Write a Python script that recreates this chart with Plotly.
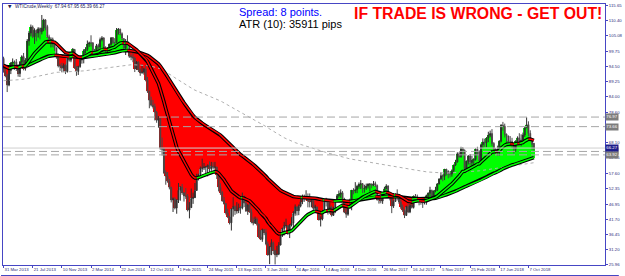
import numpy as np
import pandas as pd
import plotly.graph_objects as go

# ---------------- data (weekly WTI bars) ----------------
weeks = pd.date_range("2013-03-31", periods=292, freq="7D")

close = [92.70, 91.29, 88.01, 93.00, 95.61, 96.04, 96.02, 93.84, 91.97, 96.03,
         97.85, 93.69, 96.56, 103.22, 105.95, 108.05, 104.70, 106.94, 105.97, 107.46,
         106.42, 107.65, 110.53, 108.21, 104.67, 102.87, 103.84, 102.02, 100.81, 97.85,
         94.61, 94.60, 93.84, 94.84, 92.72, 97.65, 96.60, 99.32, 100.32, 93.96,
         92.72, 94.37, 96.64, 97.49, 99.88, 100.30, 102.20, 102.59, 102.58, 98.89,
         99.46, 101.67, 101.14, 103.74, 104.30, 100.60, 99.76, 99.99, 102.02, 104.35,
         102.71, 102.66, 106.91, 107.26, 105.74, 104.06, 100.83, 103.13, 102.09, 97.88,
         97.65, 97.35, 93.65, 95.96, 93.29, 92.27, 92.41, 93.54, 89.74, 85.82,
         82.75, 81.01, 80.54, 78.65, 75.82, 76.51, 66.15, 65.84, 57.81, 56.52,
         54.73, 52.69, 48.36, 48.69, 45.59, 48.24, 51.69, 52.78, 50.81, 49.76,
         49.61, 44.84, 45.72, 48.87, 49.14, 51.64, 55.74, 57.15, 59.15, 59.39,
         59.69, 59.72, 60.30, 59.13, 59.96, 59.61, 59.63, 56.93, 52.74, 50.89,
         48.14, 47.12, 43.87, 42.50, 40.45, 45.22, 46.05, 44.63, 44.68, 45.70,
         45.54, 49.63, 47.26, 44.60, 46.59, 44.29, 40.74, 40.39, 41.71, 39.97,
         35.62, 34.73, 38.10, 37.04, 33.16, 29.42, 32.19, 33.62, 30.89, 29.44,
         29.64, 32.78, 35.92, 38.50, 39.44, 39.46, 36.79, 39.72, 40.36, 43.73,
         45.92, 44.66, 46.21, 47.75, 49.33, 48.62, 49.07, 47.98, 47.64, 48.99,
         45.41, 45.95, 44.19, 41.60, 41.80, 44.49, 48.52, 47.64, 44.44, 45.88,
         43.03, 44.48, 48.24, 49.81, 50.35, 50.85, 48.70, 44.07, 43.41, 45.69,
         46.06, 51.68, 51.50, 51.90, 53.02, 53.72, 53.99, 52.37, 52.42, 53.17,
         53.83, 53.86, 53.40, 53.99, 53.33, 48.49, 48.78, 47.97, 50.60, 52.24,
         53.18, 49.62, 49.33, 46.22, 47.84, 50.33, 49.80, 47.66, 45.83, 44.74,
         43.01, 46.04, 44.23, 46.54, 45.77, 49.71, 49.58, 48.82, 48.51, 47.87,
         47.29, 47.48, 49.89, 50.66, 51.67, 49.29, 51.45, 51.84, 53.90, 55.64,
         56.74, 56.55, 58.95, 58.36, 57.36, 57.30, 58.47, 60.42, 61.44, 64.30,
         63.37, 66.14, 65.45, 59.20, 61.68, 63.55, 61.25, 62.04, 62.34, 65.88,
         64.94, 62.06, 67.39, 68.38, 68.10, 69.72, 70.70, 71.28, 67.88, 65.81,
         65.74, 65.06, 68.58, 74.15, 73.80, 71.01, 70.46, 68.69, 68.49, 67.63,
         65.91, 68.72, 69.80, 67.75, 68.99, 70.78, 73.25, 74.34, 71.34, 69.12,
         67.59, 66.27]

high = [97.8, 94.9, 91.9, 93.6, 95.9, 97.2, 96.5, 97.0, 95.1, 96.2,
        98.3, 99.1, 97.3, 103.9, 106.7, 108.9, 108.6, 107.6, 107.2, 108.0,
        107.9, 112.2, 110.9, 110.7, 108.8, 105.4, 104.5, 104.4, 103.2, 101.0,
        98.9, 95.4, 95.7, 95.5, 95.2, 98.0, 98.8, 99.6, 100.8, 100.4,
        94.6, 94.7, 97.8, 98.0, 100.4, 101.1, 103.4, 103.0, 105.2, 102.8,
        100.5, 102.2, 102.3, 104.4, 104.9, 104.5, 101.4, 101.1, 102.4, 104.5,
        104.6, 104.2, 107.7, 107.7, 107.5, 106.2, 104.1, 103.9, 105.2, 102.2,
        98.6, 99.1, 97.8, 96.3, 96.2, 93.8, 95.2, 94.0, 94.9, 90.8,
        86.1, 84.0, 82.9, 81.6, 79.0, 77.3, 76.6, 69.9, 66.5, 58.6,
        58.0, 55.6, 52.9, 49.2, 49.3, 48.6, 54.2, 53.1, 53.9, 51.0,
        52.5, 50.4, 47.6, 52.3, 50.9, 54.2, 57.4, 57.4, 59.9, 62.6,
        61.1, 60.1, 60.6, 61.7, 61.5, 61.4, 61.5, 59.9, 56.9, 54.1,
        51.4, 49.4, 47.2, 45.3, 42.9, 45.4, 49.3, 46.5, 47.6, 47.1,
        46.2, 50.9, 49.9, 47.8, 46.9, 48.4, 45.3, 42.3, 42.6, 42.3,
        40.2, 37.9, 38.5, 38.2, 38.4, 34.0, 32.4, 34.8, 34.0, 31.2,
        32.5, 33.8, 36.2, 38.8, 40.8, 41.9, 39.6, 40.0, 42.4, 44.5,
        46.8, 46.2, 46.8, 48.7, 50.2, 50.2, 51.7, 50.6, 50.6, 49.4,
        49.4, 46.7, 46.0, 44.2, 42.7, 44.9, 48.8, 49.1, 47.3, 47.6,
        46.4, 46.0, 48.3, 50.4, 51.6, 52.0, 51.4, 49.1, 46.0, 46.6,
        48.8, 51.8, 52.4, 54.5, 53.6, 54.4, 55.2, 54.1, 53.6, 54.0,
        54.1, 54.0, 54.0, 54.9, 54.7, 53.7, 49.0, 49.0, 50.9, 52.9,
        53.8, 53.4, 50.2, 49.8, 48.2, 50.6, 52.0, 50.2, 48.4, 46.8,
        45.0, 46.4, 47.3, 46.9, 47.4, 49.8, 50.4, 50.2, 49.4, 48.7,
        48.2, 49.4, 50.2, 51.0, 52.9, 51.9, 51.6, 52.9, 54.2, 55.7,
        57.9, 57.2, 59.0, 59.1, 58.5, 58.2, 58.9, 60.5, 62.2, 64.8,
        64.9, 66.7, 66.6, 65.8, 62.0, 63.8, 64.2, 63.6, 62.8, 66.2,
        66.7, 65.5, 67.8, 69.6, 69.5, 70.0, 71.9, 72.3, 72.8, 68.3,
        66.3, 67.1, 69.0, 74.5, 75.3, 74.7, 71.3, 70.0, 70.4, 69.8,
        67.8, 68.9, 70.3, 71.4, 71.0, 71.6, 73.6, 76.9, 75.5, 72.4,
        69.5, 67.95]

low = [92.3, 90.7, 85.6, 87.6, 91.8, 94.2, 93.3, 92.9, 90.9, 90.8,
       94.6, 93.1, 93.0, 96.2, 101.6, 104.8, 104.2, 102.2, 103.1, 104.4,
       103.8, 105.5, 106.6, 106.9, 104.3, 102.2, 101.0, 101.1, 99.8, 97.1,
       94.1, 92.9, 92.4, 92.6, 91.8, 92.3, 96.1, 95.9, 98.4, 93.6,
       91.2, 91.5, 94.0, 95.4, 95.5, 98.9, 99.8, 101.2, 101.3, 97.4,
       97.8, 98.7, 98.9, 100.3, 103.1, 100.1, 98.9, 98.6, 99.8, 101.6,
       102.2, 101.9, 102.6, 105.4, 105.2, 103.6, 100.4, 98.4, 101.9, 97.4,
       96.6, 95.9, 92.5, 93.2, 92.5, 91.2, 91.9, 91.6, 89.3, 85.3,
       80.0, 80.6, 79.9, 75.8, 75.0, 73.3, 65.7, 63.7, 57.3, 53.6,
       54.3, 52.0, 47.5, 44.2, 45.1, 43.6, 47.3, 48.1, 50.1, 47.8,
       48.7, 44.4, 42.0, 45.9, 47.0, 49.5, 51.5, 55.1, 56.0, 58.0,
       58.7, 57.0, 56.5, 57.5, 58.4, 58.9, 58.8, 55.6, 51.3, 50.1,
       47.7, 46.7, 43.3, 42.1, 39.9, 37.8, 42.6, 43.2, 43.6, 43.8,
       43.6, 45.1, 45.9, 44.2, 43.2, 43.9, 40.3, 39.6, 40.1, 39.5,
       35.2, 34.5, 33.9, 36.2, 32.7, 29.1, 26.2, 29.3, 29.6, 26.1,
       28.6, 29.3, 32.7, 35.6, 36.1, 38.7, 36.3, 35.2, 39.2, 37.6,
       42.9, 43.0, 43.1, 45.8, 46.9, 47.7, 48.2, 45.8, 45.8, 45.8,
       44.9, 44.3, 43.8, 41.2, 39.2, 41.3, 44.8, 46.1, 43.3, 43.6,
       42.6, 42.9, 43.8, 47.7, 49.1, 49.1, 48.3, 43.8, 42.2, 42.9,
       45.3, 44.8, 50.3, 50.7, 50.7, 52.2, 52.1, 50.7, 50.9, 51.8,
       52.3, 51.2, 52.4, 53.1, 52.8, 48.1, 47.1, 47.2, 47.0, 50.1,
       52.2, 49.2, 48.2, 43.8, 45.6, 47.7, 48.2, 47.0, 45.2, 44.2,
       42.1, 42.9, 43.8, 43.8, 45.4, 45.4, 48.4, 47.9, 46.5, 46.7,
       45.6, 46.8, 46.7, 49.3, 49.6, 49.1, 49.1, 51.0, 51.4, 53.7,
       55.3, 54.8, 55.2, 56.8, 55.8, 56.1, 56.4, 57.9, 60.1, 61.3,
       62.9, 62.9, 63.8, 58.1, 58.2, 60.6, 60.2, 60.0, 60.3, 61.9,
       63.8, 61.8, 61.9, 66.2, 66.7, 66.6, 68.3, 70.0, 67.0, 64.2,
       64.2, 63.6, 63.6, 68.2, 72.3, 69.9, 67.0, 67.0, 67.0, 66.3,
       64.4, 65.0, 67.8, 67.1, 66.9, 68.6, 70.1, 73.4, 70.4, 68.5,
       65.7, 65.39]

first_open = 97.23          # open of the first visible bar
last_open = 67.94           # open of the current bar (header)
header_text = "WTICrude,Weekly  67.94 67.95 65.39 66.27"

# horizontal levels drawn on the chart and their price boxes
levels = [76.97, 73.66, 65.10, 63.92]
bid = 66.27

ytick_vals = [115.65, 110.40, 105.08, 99.75, 94.50, 89.25, 84.00, 78.60,
              68.10, 62.85, 57.60, 52.35, 46.95, 41.70, 36.45, 31.20, 25.96]

# indicator settings (moving averages of the close) and seeds at the left edge
slow_period, slow_seed = 73, 94.5
fast_period, fast_seed = 21, 95.0
long_period, long_seed = 200, 89.5

# ---------------- derived ----------------
close_a = np.array(close)
open_ = [first_open] + close[:-1]
open_[-1] = last_open


def ema(values, period, seed):
    a = 2.0 / (period + 1)
    out, m = [], seed
    for v in values:
        m = m + a * (v - m)
        out.append(m)
    return np.array(out)


slow = ema(close, slow_period, slow_seed)
fast = ema(close, fast_period, fast_seed)
longma = ema(close, long_period, long_seed)


def slope_segments(x, y):
    """split a line into rising / falling runs"""
    segs = {True: ([], []), False: ([], [])}
    cur = None
    for i in range(1, len(y)):
        up = y[i] >= y[i - 1]
        sx, sy = segs[up]
        if up != cur:
            if cur is not None:
                px, py = segs[cur]
                px.append(None); py.append(None)
            sx.append(x[i - 1]); sy.append(y[i - 1])
            cur = up
        sx.append(x[i]); sy.append(y[i])
    return segs


GREEN = "#00ff00"
RED = "#ff0000"
FRAME = "#4646c4"
TXT = "#2a2a7a"

fig = go.Figure()

# cloud between close and slow MA (per-bar histogram like the original)
diff = close_a - slow
fig.add_trace(go.Bar(
    x=weeks, y=diff, base=slow,
    marker=dict(color=[GREEN if d >= 0 else RED for d in diff], line=dict(width=0)),
    width=7 * 86400000, hoverinfo="skip", showlegend=False))

# candles
fig.add_trace(go.Candlestick(
    x=weeks, open=open_, high=high, low=low, close=close,
    increasing=dict(line=dict(color="#2e2e2e", width=1), fillcolor="#2e2e2e"),
    decreasing=dict(line=dict(color="#4a4a4a", width=1), fillcolor="#7a1010"),
    whiskerwidth=0, hoverinfo="skip", showlegend=False))

# long dotted MA
fig.add_trace(go.Scatter(x=weeks, y=longma, mode="lines",
                         line=dict(color="#b0b0b0", width=1, dash="dot"),
                         hoverinfo="skip", showlegend=False))

# double-line MAs
for ma in (slow, fast):
    fig.add_trace(go.Scatter(x=weeks, y=ma, mode="lines",
                             line=dict(color="#000000", width=3.6),
                             hoverinfo="skip", showlegend=False))
    segs = slope_segments(list(weeks), list(ma))
    for up, col in ((True, GREEN), (False, RED)):
        sx, sy = segs[up]
        fig.add_trace(go.Scatter(x=sx, y=sy, mode="lines",
                                 line=dict(color=col, width=1.5),
                                 connectgaps=False,
                                 hoverinfo="skip", showlegend=False))

# ---------------- layout ----------------
W, H = 625, 276
ML, MR, MT, MB = 2, 14, 4, 11
pw, ph = W - ML - MR, H - MT - MB


def px_x(p):
    return (p - ML) / pw


def px_y(p):
    return (H - MB - p) / ph


px_per_week = 1.8437
x0 = weeks[0] - pd.Timedelta(days=0.3 * 7)
x1 = x0 + pd.Timedelta(days=pw / px_per_week * 7)

shapes = []
for lv in levels:
    shapes.append(dict(type="line", xref="paper", x0=0, x1=1, yref="y", y0=lv, y1=lv,
                       line=dict(color="#a6a6a6", width=1, dash="8px,4px"), layer="above"))
shapes.append(dict(type="line", xref="paper", x0=0, x1=1, yref="y", y0=bid, y1=bid,
                   line=dict(color="#cfcfcf", width=1), layer="above"))
# window border at the bottom
shapes.append(dict(type="line", xref="paper", yref="paper",
                   x0=px_x(0), x1=px_x(W), y0=px_y(275.5), y1=px_y(275.5),
                   line=dict(color=FRAME, width=1)))

annotations = []
for lv in levels:
    annotations.append(dict(xref="paper", x=1, xanchor="left", yref="y", y=lv,
                            text=f"{lv:.2f}", showarrow=False,
                            font=dict(family="Liberation Sans", size=4.3, color="#ffffff"),
                            bgcolor="#7c7c7c", borderpad=0.3))
annotations.append(dict(xref="paper", x=1, xanchor="left", yref="y", y=bid,
                        text=f"{bid:.2f}", showarrow=False,
                        font=dict(family="Liberation Sans", size=4.3, color="#ffffff"),
                        bgcolor="#1c1c8c", borderpad=0.3))

annotations += [
    dict(xref="paper", yref="paper", x=px_x(5), y=px_y(7), xanchor="left", yanchor="middle",
         text="▼", showarrow=False, font=dict(family="DejaVu Sans", size=4.5, color="#202050")),
    dict(xref="paper", yref="paper", x=px_x(12), y=px_y(7), xanchor="left", yanchor="middle",
         text=header_text, showarrow=False,
         font=dict(family="Liberation Sans", size=4.6, color="#202050")),
    dict(xref="paper", yref="paper", x=px_x(239), y=px_y(12), xanchor="left", yanchor="middle",
         text="Spread: 8 points.", showarrow=False,
         font=dict(family="Liberation Sans", size=11, color="#0000ff")),
    dict(xref="paper", yref="paper", x=px_x(239), y=px_y(24), xanchor="left", yanchor="middle",
         text="ATR (10): 35911 pips", showarrow=False,
         font=dict(family="Liberation Sans", size=11, color="#000000")),
    dict(xref="paper", yref="paper", x=px_x(355), y=px_y(14), xanchor="left", yanchor="middle",
         text="<b>IF TRADE IS WRONG - GET OUT!</b>", showarrow=False,
         font=dict(family="Liberation Sans", size=15.8, color="#ff0000")),
]

xtick_vals = list(weeks[::16])
xtick_text = [f"{d.day} {d.strftime('%b %Y')}" for d in xtick_vals]

fig.update_layout(
    width=W, height=H,
    margin=dict(l=ML, r=MR, t=MT, b=MB),
    paper_bgcolor="#ffffff", plot_bgcolor="#ffffff",
    barmode="overlay", bargap=0,
    showlegend=False, hovermode=False,
    shapes=shapes, annotations=annotations,
    xaxis=dict(type="date", range=[x0, x1], rangeslider=dict(visible=False),
               tickvals=xtick_vals, ticktext=xtick_text, tickangle=0,
               ticklabelposition="outside right",
               ticks="outside", ticklen=2, tickcolor=FRAME,
               tickfont=dict(family="Liberation Sans", size=4.3, color=TXT),
               showgrid=False, zeroline=False,
               showline=True, linecolor=FRAME, linewidth=1, mirror=True),
    yaxis=dict(range=[25.9, 115.65 + 1 / 2.899], side="right",
               tickvals=ytick_vals, ticktext=[f"{v:.2f}" for v in ytick_vals],
               ticks="outside", ticklen=2, tickcolor=FRAME,
               tickfont=dict(family="Liberation Sans", size=4.3, color=TXT),
               showgrid=False, zeroline=False,
               showline=True, linecolor=FRAME, linewidth=1, mirror=True),
)

fig.write_html("out.html")
